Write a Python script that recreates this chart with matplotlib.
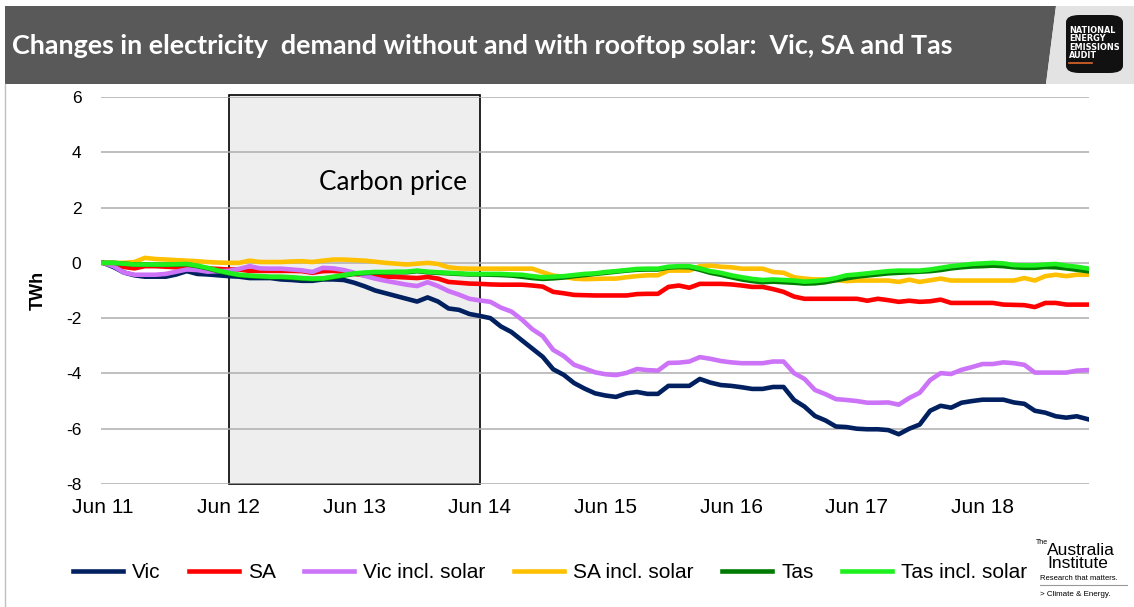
import matplotlib
matplotlib.use("Agg")
import matplotlib.pyplot as plt
from matplotlib.patches import Rectangle, Polygon, FancyBboxPatch
from matplotlib.lines import Line2D

plt.rcParams["axes.unicode_minus"] = False

# monthly change in demand vs Jun 2011 (TWh), Jun 2011 .. Apr 2019
vic = [0, -0.15, -0.35, -0.45, -0.5, -0.5, -0.5, -0.42, -0.3, -0.4,
       -0.42, -0.45, -0.48, -0.5, -0.55, -0.55, -0.55, -0.6, -0.62, -0.65,
       -0.65, -0.6, -0.6, -0.62, -0.72, -0.85, -1.0, -1.1, -1.2, -1.3,
       -1.4, -1.25, -1.4, -1.65, -1.7, -1.85, -1.92, -2.0, -2.3, -2.5,
       -2.8, -3.1, -3.4, -3.85, -4.05, -4.35, -4.55, -4.72, -4.8, -4.85,
       -4.72, -4.67, -4.74, -4.74, -4.45, -4.45, -4.45, -4.2, -4.33, -4.42,
       -4.45, -4.5, -4.56, -4.56, -4.49, -4.49, -4.96, -5.2, -5.54, -5.7,
       -5.92, -5.94, -6.0, -6.02, -6.02, -6.05, -6.2, -6.0, -5.85, -5.35,
       -5.17, -5.24, -5.06, -5.0, -4.95, -4.95, -4.95, -5.05, -5.1, -5.35,
       -5.42, -5.55, -5.6, -5.55, -5.65]
sa = [0, -0.06, -0.15, -0.2, -0.12, -0.12, -0.14, -0.16, -0.2, -0.2,
      -0.2, -0.22, -0.24, -0.24, -0.29, -0.29, -0.29, -0.29, -0.29, -0.3,
      -0.36, -0.3, -0.29, -0.33, -0.4, -0.45, -0.47, -0.5, -0.51, -0.53,
      -0.55, -0.51, -0.57, -0.69, -0.72, -0.75, -0.76, -0.78, -0.79, -0.79,
      -0.79, -0.82, -0.86, -1.05, -1.1, -1.16, -1.17, -1.18, -1.18, -1.18,
      -1.18, -1.13, -1.12, -1.12, -0.87, -0.82, -0.9, -0.76, -0.76, -0.76,
      -0.78, -0.82, -0.87, -0.87, -0.95, -1.05, -1.22, -1.3, -1.3, -1.3,
      -1.3, -1.3, -1.3, -1.37, -1.3, -1.35, -1.41, -1.37, -1.41, -1.39,
      -1.33, -1.45, -1.45, -1.45, -1.45, -1.45, -1.51, -1.52, -1.53, -1.6,
      -1.45, -1.45, -1.51, -1.51, -1.51]
vic_solar = [0, -0.12, -0.35, -0.43, -0.43, -0.43, -0.4, -0.32, -0.24, -0.26,
             -0.32, -0.3, -0.29, -0.22, -0.12, -0.2, -0.21, -0.21, -0.24, -0.27,
             -0.33, -0.18, -0.2, -0.26, -0.36, -0.47, -0.57, -0.65, -0.72, -0.79,
             -0.84, -0.7, -0.84, -1.02, -1.15, -1.3, -1.36, -1.41, -1.62, -1.76,
             -2.05, -2.4, -2.65, -3.15, -3.37, -3.69, -3.82, -3.96, -4.03, -4.06,
             -3.98, -3.84, -3.88, -3.9, -3.62, -3.61, -3.57, -3.41, -3.47, -3.55,
             -3.6, -3.63, -3.63, -3.63, -3.57, -3.57, -3.99, -4.2, -4.6, -4.75,
             -4.93, -4.96, -5.0, -5.06, -5.06, -5.05, -5.13, -4.89, -4.7, -4.24,
             -3.99, -4.02, -3.87, -3.77, -3.66, -3.66, -3.6, -3.63, -3.69, -3.97,
             -3.97, -3.97, -3.97, -3.9, -3.88]
sa_solar = [0, 0, 0, 0.03, 0.18, 0.14, 0.12, 0.1, 0.08, 0.06,
            0.03, 0.01, 0, 0, 0.08, 0.03, 0.03, 0.03, 0.05, 0.06,
            0.03, 0.08, 0.12, 0.12, 0.1, 0.08, 0.04, 0, -0.03, -0.06,
            -0.03, 0, -0.04, -0.16, -0.2, -0.21, -0.21, -0.21, -0.21, -0.21,
            -0.21, -0.21, -0.34, -0.46, -0.5, -0.57, -0.59, -0.58, -0.57, -0.57,
            -0.52, -0.48, -0.45, -0.45, -0.28, -0.28, -0.28, -0.12, -0.1, -0.14,
            -0.16, -0.21, -0.21, -0.21, -0.33, -0.36, -0.52, -0.57, -0.6, -0.6,
            -0.62, -0.66, -0.64, -0.64, -0.64, -0.64, -0.69, -0.61, -0.69, -0.63,
            -0.57, -0.64, -0.64, -0.64, -0.64, -0.64, -0.64, -0.64, -0.55, -0.64,
            -0.48, -0.43, -0.48, -0.43, -0.43]
tas = [0, 0, -0.03, -0.06, -0.06, -0.07, -0.07, -0.06, -0.05, -0.12,
       -0.2, -0.3, -0.38, -0.45, -0.48, -0.5, -0.52, -0.52, -0.54, -0.57,
       -0.59, -0.58, -0.52, -0.46, -0.4, -0.37, -0.35, -0.35, -0.34, -0.34,
       -0.3, -0.34, -0.36, -0.38, -0.4, -0.42, -0.42, -0.43, -0.44, -0.46,
       -0.5, -0.55, -0.58, -0.56, -0.53, -0.48, -0.44, -0.4, -0.36, -0.32,
       -0.28, -0.25, -0.24, -0.24, -0.17, -0.15, -0.16, -0.25, -0.36, -0.43,
       -0.52, -0.6, -0.66, -0.7, -0.68, -0.7, -0.72, -0.75, -0.74, -0.7,
       -0.63, -0.56, -0.5, -0.46, -0.42, -0.38, -0.36, -0.34, -0.32, -0.3,
       -0.26, -0.2, -0.16, -0.13, -0.12, -0.1, -0.12, -0.16, -0.18, -0.18,
       -0.15, -0.16, -0.2, -0.25, -0.3]
tas_solar = [0, 0, -0.03, -0.06, -0.06, -0.06, -0.06, -0.05, -0.04, -0.1,
             -0.18, -0.28, -0.36, -0.43, -0.46, -0.48, -0.5, -0.5, -0.52, -0.55,
             -0.57, -0.56, -0.5, -0.44, -0.38, -0.35, -0.33, -0.33, -0.32, -0.32,
             -0.28, -0.32, -0.34, -0.36, -0.38, -0.4, -0.4, -0.4, -0.4, -0.42,
             -0.43, -0.48, -0.52, -0.5, -0.48, -0.44, -0.4, -0.38, -0.33, -0.3,
             -0.26, -0.22, -0.21, -0.21, -0.14, -0.12, -0.12, -0.2, -0.3, -0.36,
             -0.45, -0.52, -0.58, -0.62, -0.6, -0.62, -0.64, -0.68, -0.66, -0.62,
             -0.55, -0.45, -0.42, -0.38, -0.34, -0.3, -0.28, -0.28, -0.28, -0.24,
             -0.18, -0.12, -0.08, -0.04, -0.02, 0, -0.02, -0.08, -0.09, -0.09,
             -0.06, -0.04, -0.1, -0.14, -0.2]

series = [("Vic", vic, "#002060"), ("SA", sa, "#FF0000"),
          ("Vic incl. solar", vic_solar, "#CC73F8"), ("SA incl. solar", sa_solar, "#FFC000"),
          ("Tas", tas, "#007A00"), ("Tas incl. solar", tas_solar, "#1EF01E")]
tick_labels = ["Jun 11", "Jun 12", "Jun 13", "Jun 14", "Jun 15", "Jun 16", "Jun 17", "Jun 18"]
carbon_start, carbon_end = 12, 36   # carbon price period, months from Jun 11

W, H = 1134, 607
fig = plt.figure(figsize=(W / 100, H / 100), dpi=100)

def fx(px):
    return px / W

def fy(py):
    return 1 - py / H

# header band
fig.add_artist(Polygon([(fx(5), fy(6)), (fx(1056), fy(6)), (fx(1046), fy(84)), (fx(5), fy(84))],
                       closed=True, transform=fig.transFigure, facecolor="#595959", edgecolor="none"))
fig.add_artist(Polygon([(fx(1056), fy(6)), (fx(1134), fy(6)), (fx(1134), fy(84)), (fx(1046), fy(84))],
                       closed=True, transform=fig.transFigure, facecolor="#E3E3E3", edgecolor="none"))
fig.text(fx(12), fy(46), "Changes in electricity  demand without and with rooftop solar:  Vic, SA and Tas",
         color="white", fontsize=19.4, fontweight="bold", family="Lato", va="center", ha="left")

# logo box
fig.add_artist(FancyBboxPatch((fx(1066), fy(73)), fx(57), fy(0) - fy(58),
                              boxstyle="round,pad=0,rounding_size=0.012", transform=fig.transFigure,
                              facecolor="#111111", edgecolor="none"))
fig.text(fx(1069), fy(43), "NATIONAL\nENERGY\nEMISSIONS\nAUDIT", color="white", fontsize=5.9,
         fontweight="bold", family="DejaVu Sans", va="center", ha="left", linespacing=0.95)
fig.add_artist(Line2D([fx(1069), fx(1092)], [fy(63), fy(63)], transform=fig.transFigure,
                      color="#E0662A", lw=1.2))

# left border line
fig.add_artist(Line2D([fx(5), fx(5)], [fy(84), fy(607)], transform=fig.transFigure,
                      color="#BFBFBF", lw=1))

ax = fig.add_axes([fx(100.9), fy(484), fx(1089.3) - fx(100.9), fy(97) - fy(484)])
ax.set_xlim(-0.2, 94.2)
ax.set_ylim(-8, 6)
ax.set_yticks(range(-8, 7, 2))
ax.set_xticks(range(0, 85, 12))
ax.set_xticklabels(tick_labels)
ax.grid(axis="y", color="#ADADAD", lw=1.1, zorder=1)
ax.set_axisbelow(False)
for s in ax.spines.values():
    s.set_visible(False)
ax.tick_params(length=0)
ax.tick_params(axis="y", pad=14, labelsize=12.5)
ax.tick_params(axis="x", pad=10, labelsize=15)
for lab in ax.get_xticklabels() + ax.get_yticklabels():
    lab.set_family("Liberation Sans")
ax.set_ylabel("TWh", fontsize=13, fontweight="bold", family="Liberation Sans", labelpad=14)

ax.add_patch(Rectangle((carbon_start, -8), carbon_end - carbon_start, 14.07, facecolor="#EEEEEE",
                       edgecolor="black", lw=1.2, zorder=0.5, clip_on=False))
ax.text(27.7, 2.9, "Carbon price", fontsize=18.8, family="Lato",
        ha="center", va="center", zorder=2)

months = list(range(len(vic)))
for name, vals, col in series:
    ax.plot(months, vals, color=col, lw=3.3, label=name, zorder=3, solid_joinstyle="round")

leg = fig.legend(loc="center", bbox_to_anchor=(0.485, fy(573)), ncol=6, frameon=False,
                 handlelength=2.4, handletextpad=0.45, columnspacing=1.35,
                 prop={"family": "Liberation Sans", "size": 15})

# Australia Institute mark
fig.text(fx(1036), fy(543), "The", fontsize=5, family="Liberation Sans", va="center")
fig.text(fx(1047), fy(557), "Australia\nInstitute", fontsize=12.5, family="Liberation Sans",
         va="center", linespacing=0.85)
fig.text(fx(1040), fy(578), "Research that matters.", fontsize=5.5, family="Liberation Sans", va="center")
fig.add_artist(Line2D([fx(1040), fx(1127)], [fy(585), fy(585)], transform=fig.transFigure,
                      color="#999999", lw=0.8))
fig.text(fx(1040), fy(594), "> Climate & Energy.", fontsize=5.8, family="Liberation Sans", va="center")

fig.savefig("out.png", dpi=100)
